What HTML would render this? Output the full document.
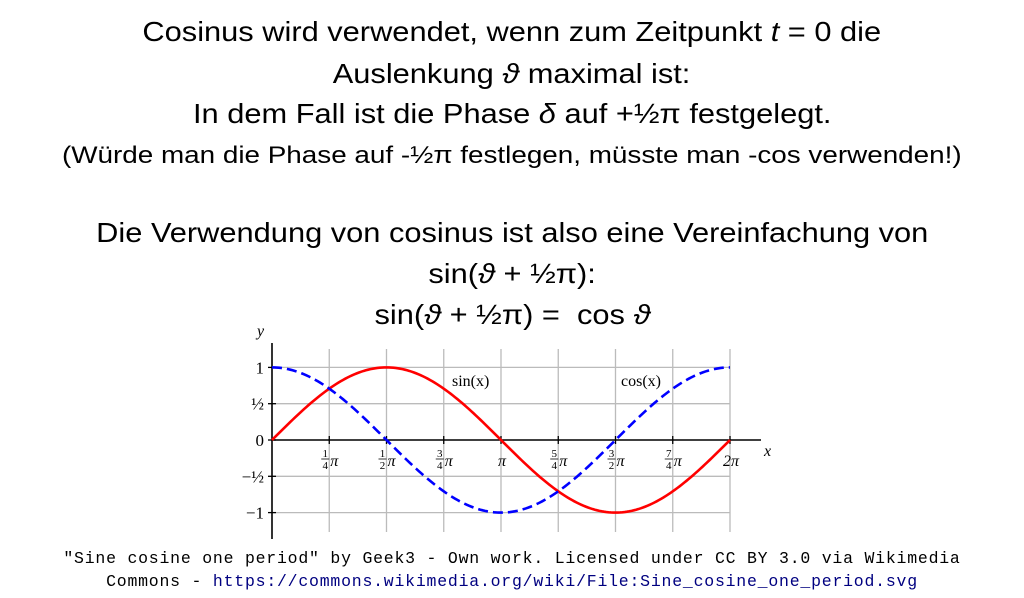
<!DOCTYPE html>
<html><head><meta charset="utf-8"><style>
body{margin:0;width:1024px;height:598px;background:#fff;overflow:hidden;position:relative;font-family:"Liberation Sans",sans-serif;color:#000}
.t{position:absolute;left:0;width:1024px;text-align:center;white-space:nowrap;font-size:28px;line-height:30px}
.t span{display:inline-block;transform:scaleX(1.1)}
.cap{position:absolute;left:0;width:1024px;text-align:center;font-family:"Liberation Mono",monospace;font-size:16.5px;letter-spacing:0.78px;line-height:23px}
svg{position:absolute;left:0;top:0}
</style></head><body>
<div class="t" style="top:17px"><span>Cosinus wird verwendet, wenn zum Zeitpunkt <i>t</i> = 0 die</span></div>
<div class="t" style="top:59px"><span>Auslenkung <i>ϑ</i> maximal ist:</span></div>
<div class="t" style="top:99px"><span>In dem Fall ist die Phase <i>δ</i> auf +½π festgelegt.</span></div>
<div class="t" style="top:141px;font-size:24px"><span style="transform:scaleX(1.16)">(Würde man die Phase auf -½π festlegen, müsste man -cos verwenden!)</span></div>
<div class="t" style="top:218px"><span>Die Verwendung von cosinus ist also eine Vereinfachung von</span></div>
<div class="t" style="top:259px"><span>sin(<i>ϑ</i> + ½π):</span></div>
<div class="t" style="top:300px"><span>sin(<i>ϑ</i> + ½π) =&nbsp; cos <i>ϑ</i></span></div>
<svg id="chart" width="1024" height="598"></svg>
<div class="cap" style="top:547px">"Sine cosine one period" by Geek3 - Own work. Licensed under CC BY 3.0 via Wikimedia<br>Commons - <a style="color:#000080;text-decoration:none">https://commons.wikimedia.org/wiki/File:Sine_cosine_one_period.svg</a></div>
<script>
const xTicks=[1,2,3,4,5,6,7,8];
const xTickNum=["1","1","3","","5","3","7",""];
const xTickDen=["4","2","4","","4","2","4",""];
const xTickText=["π","π","π","π","π","π","π","2π"];
const yTicks=[1,0.5,0,-0.5,-1];
const yTickLabels=["1","½","0","−½","−1"];
const sampleCount=[200];
const ns="http://www.w3.org/2000/svg";
const svg=document.getElementById('chart');
const X=q=>272+q*57.25;
const Y=v=>440-v*72.6;
function mk(t,a){const e=document.createElementNS(ns,t);for(const k in a)e.setAttribute(k,a[k]);svg.appendChild(e);return e;}
const serif='Liberation Serif, serif';
xTicks.forEach((q,i)=>{
 const g=mk('line',{x1:X(q),x2:X(q),y1:349,y2:532,stroke:'#bbb','stroke-width':1.3});
 
 
 const tk=mk('line',{x1:X(q),x2:X(q),y1:436,y2:444,stroke:'#000','stroke-width':1.3});
 
 
 const cx=X(q);
 if(xTickNum[i]){
  const n=mk('text',{x:cx-4,y:457,'text-anchor':'middle','font-family':serif,'font-size':11});n.textContent=xTickNum[i];
  
  
  const bar=mk('line',{x1:cx-8,x2:cx,y1:459,y2:459,stroke:'#000','stroke-width':0.8});
  
  
  const d=mk('text',{x:cx-4,y:469,'text-anchor':'middle','font-family':serif,'font-size':11});d.textContent=xTickDen[i];
  
  
  const p=mk('text',{x:cx+1,y:466,'font-family':serif,'font-size':16,'font-style':'italic'});p.textContent=xTickText[i];
  
  
 }else{
  const p=mk('text',{x:cx+1,y:466,'text-anchor':'middle','font-family':serif,'font-size':16,'font-style':'italic'});p.textContent=xTickText[i];
  
  
 }
});
yTicks.forEach((v,i)=>{
 if(v!==0){const g=mk('line',{x1:272,x2:X(8),y1:Y(v),y2:Y(v),stroke:'#bbb','stroke-width':1.3});
 
 }
 const tk=mk('line',{x1:268,x2:276,y1:Y(v),y2:Y(v),stroke:'#000','stroke-width':1.3});
 
 
 const t=mk('text',{x:264,y:Y(v)+6,'text-anchor':'end','font-family':serif,'font-size':17});
 t.textContent=yTickLabels[i];
 
 
});
const xa=mk('line',{x1:272,x2:761,y1:Y(0),y2:Y(0),stroke:'#000','stroke-width':1.6});


const ya=mk('line',{x1:272,x2:272,y1:343,y2:539,stroke:'#000','stroke-width':1.6});


function curve(f,attrs,name){
 let d='';const n=sampleCount[0];
 for(let i=0;i<=n;i++){const q=8*i/n;const x=q*Math.PI/4;d+=(i?'L':'M')+X(q).toFixed(2)+','+Y(f(x)).toFixed(2);}
 const p=mk('path',Object.assign({d:d,fill:'none'},attrs));
 
 
}
curve(Math.sin,{stroke:'#f00','stroke-width':2.6},'sine-curve');
curve(Math.cos,{stroke:'#00f','stroke-width':2.6,'stroke-dasharray':'10,5'},'cosine-curve');
function lab(x,y,txt,name,size,it){const t=mk('text',{x:x,y:y,'font-family':serif,'font-size':size,'font-style':it?'italic':'normal'});t.textContent=txt;
 
 }
lab(452,386,'sin(x)','sin-label',16,false);
lab(621,386,'cos(x)','cos-label',16,false);
lab(764,456,'x','x-axis-title',16,true);
lab(257,336,'y','y-axis-title',16,true);
</script>
</body></html>
